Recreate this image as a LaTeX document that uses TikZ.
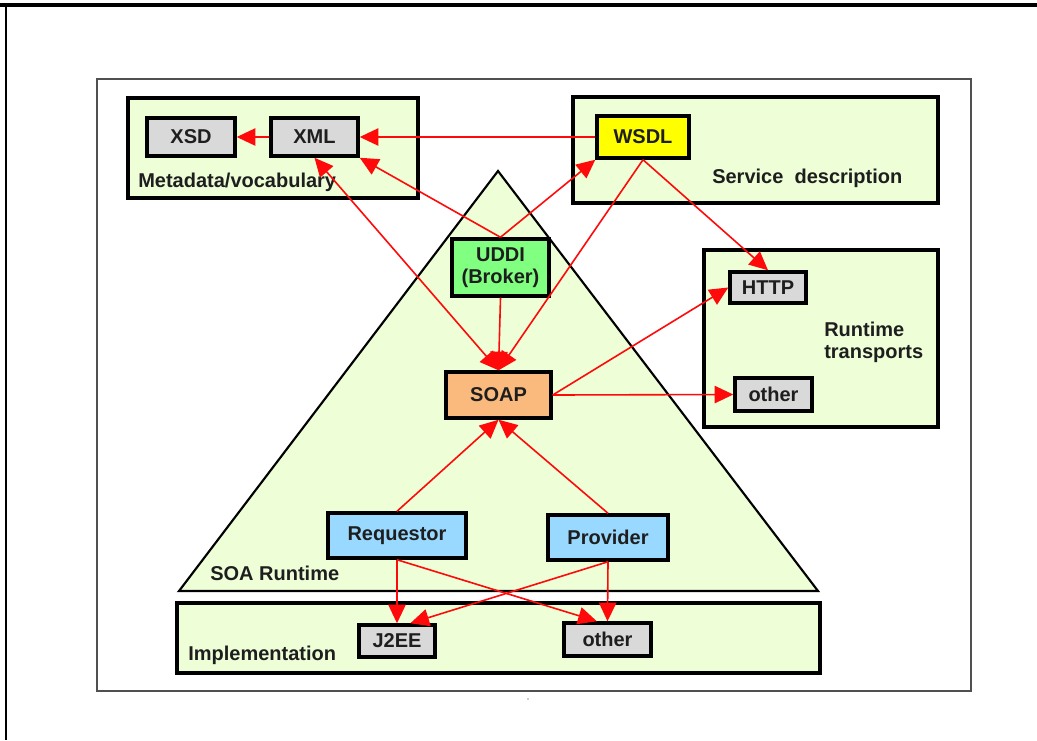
\documentclass[tikz,border=0pt]{standalone}
\usepackage{fontspec}
\setmainfont{Liberation Sans}
\usetikzlibrary{arrows.meta}

\definecolor{areafill}{RGB}{238,255,216}
\definecolor{boxgray}{RGB}{217,217,217}
\definecolor{wsdlyellow}{RGB}{255,255,0}
\definecolor{uddigreen}{RGB}{128,255,128}
\definecolor{soaporange}{RGB}{250,186,125}
\definecolor{partyblue}{RGB}{153,217,255}
\definecolor{linkred}{RGB}{255,10,10}
\definecolor{textgray}{RGB}{30,30,30}
\definecolor{framegray}{RGB}{80,80,80}

\begin{document}
\begin{tikzpicture}[x=0.75pt,y=-0.75pt,
  font=\fontsize{15}{16.5}\selectfont\bfseries,
  area/.style={draw=black, line width=2.7pt, fill=areafill},
  box/.style={draw=black, line width=2.6pt, inner sep=0pt, text=textgray},
  itembox/.style={box, fill=boxgray},
  lbl/.style={inner sep=0pt, text=textgray},
  tip/.tip={Triangle[length=14pt,width=13pt]},
  link/.style={draw=linkred, line width=1.2pt, -tip},
  biglink/.style={link, tip-tip},
]
\useasboundingbox (0,0) rectangle (1037,740);

% page rules
\draw[line width=2.6pt] (0,5) -- (1037,5);
\draw[line width=0.8pt] (6,5) -- (6,740);
\fill[gray!40] (527,698) rectangle (529,700);

% outer frame
\draw[line width=1.4pt, draw=framegray] (97,79) rectangle (971,691);

% SOA runtime triangle
\draw[line width=1.6pt, fill=areafill] (498,171) -- (818,591) -- (179,591) -- cycle;

% grouping areas
\draw[area] (128,98) rectangle (418,198);
\draw[area] (573,97) rectangle (938,203);
\draw[area] (704,250) rectangle (938,427);
\draw[area] (177,603) rectangle (820,673);

% area labels
\node[lbl, anchor=base west] (metalbl) at (138,187) {Metadata/vocabulary};
\node[lbl, anchor=base west] (servlbl) at (712,183) {Service\ \ description};
\node[lbl, anchor=north west, align=left] (rtlbl) at (824,322) {Runtime\\transports};
\node[lbl, anchor=base west] (soalbl) at (210,580) {SOA Runtime};
\node[lbl, anchor=base west] (impllbl) at (188,660) {Implementation};

% component boxes
\node[itembox, minimum width=66pt, minimum height=28.5pt] (xsd) at (191,137) {XSD};
\node[itembox, minimum width=65.25pt, minimum height=28.5pt] (xml) at (314.5,137) {XML};
\node[box, fill=wsdlyellow, minimum width=69pt, minimum height=31.5pt] (wsdl) at (643,137) {WSDL};
\node[itembox, minimum width=57pt, minimum height=23.25pt] (http) at (768,287.5) {HTTP};
\node[itembox, minimum width=57.75pt, minimum height=24.75pt] (tother) at (773.5,394.5) {other};
\node[box, fill=uddigreen, align=center, minimum width=72.75pt, minimum height=42.75pt] (uddi) at (500.5,267.5) {UDDI\\(Broker)};
\node[box, fill=soaporange, minimum width=78.75pt, minimum height=34.5pt] (soap) at (498.5,395) {SOAP};
\node[box, fill=partyblue, minimum width=103.5pt, minimum height=33.75pt] (req) at (397,535.5) {Requestor};
\node[box, fill=partyblue, minimum width=90pt, minimum height=33.75pt] (prov) at (608,537.5) {Provider};
\node[itembox, minimum width=57pt, minimum height=24pt] (j2ee) at (397,641) {J2EE};
\node[itembox, minimum width=65.25pt, minimum height=24.75pt] (iother) at (607.5,639.5) {other};

% connectors
\draw[link] (xml) -- (xsd);
\draw[link] (wsdl) -- (xml);
\draw[link] (uddi.north) -- (xml.south east);
\draw[link] (uddi.north) -- (wsdl.south west);
\draw[biglink] (xml.south) -- (soap.north);
\draw[link] (uddi.south) -- (soap.north);
\draw[link] (wsdl.south) -- (soap.north);
\draw[link] (wsdl.south) -- (http.north);
\draw[link] (soap.east) -- (http.west);
\draw[link] (soap.east) -- (tother.west);
\draw[link] (req.north) -- (soap.south);
\draw[link] (prov.north) -- (soap.south);
\draw[link] (req.south) -- (j2ee.north);
\draw[link] (req.south) -- ([xshift=-8]iother.north);
\draw[link] (prov.south) -- ([xshift=10]j2ee.north);
\draw[link] (prov.south) -- (iother.north);
\end{tikzpicture}
\end{document}
